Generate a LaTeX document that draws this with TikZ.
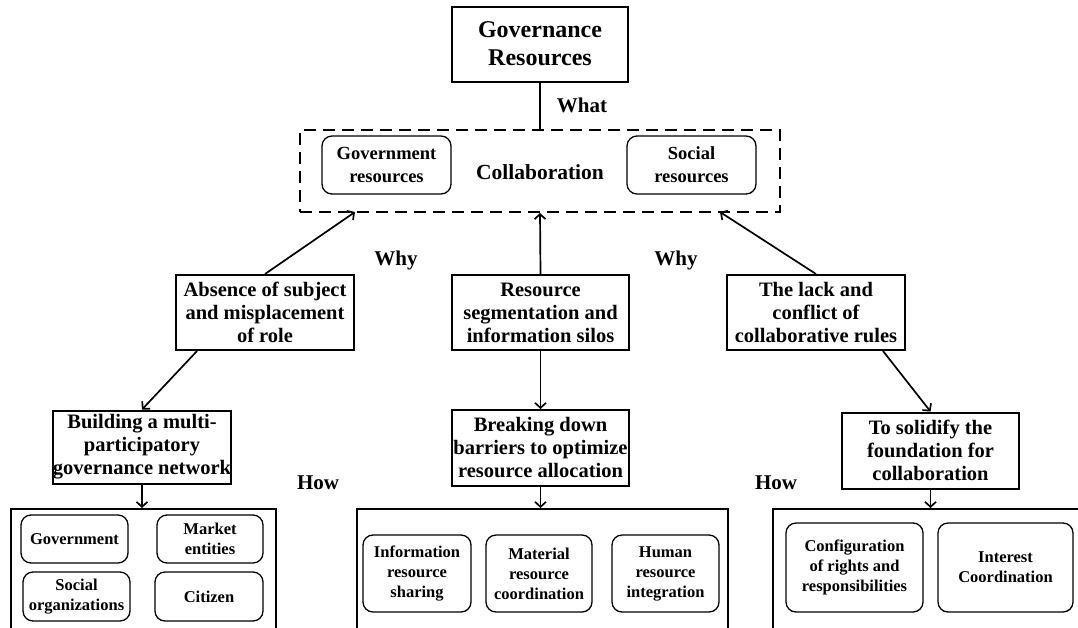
\documentclass[tikz,border=0pt]{standalone}
\usepackage{fontspec}
\setmainfont{Liberation Serif}
\usetikzlibrary{arrows.meta}
\begin{document}
\begin{tikzpicture}[x=1pt,y=-1pt,
  box/.style={draw, line width=2pt, align=center, inner sep=0pt,
    font=\bfseries\fontsize{20.5}{23}\selectfont},
  rbox/.style={draw, line width=1.3pt, rounded corners=10pt, align=center, inner sep=0pt,
    font=\bfseries\fontsize{16.5}{20}\selectfont},
  cont/.style={draw, line width=2pt, inner sep=0pt},
  lbl/.style={font=\bfseries\fontsize{21}{24}\selectfont, inner sep=0pt},
  arr/.style={line width=1.7pt, -{Straight Barb[length=5pt,width=11pt]}},
  ln/.style={line width=1.7pt}]
\useasboundingbox (0,0) rectangle (1078,627);
\fill[white] (0,0) rectangle (1078,627);

% top
\node[box, minimum width=176pt, minimum height=75pt,
  font=\bfseries\fontsize{24}{28}\selectfont] (gov) at (540,44) {Governance\\Resources};
\node[draw, dash pattern=on 12pt off 7pt, line width=2pt, minimum width=480pt,
  minimum height=82pt, inner sep=0pt] (dash) at (540,171) {};
\node[rbox, minimum width=129pt, minimum height=58pt,
  font=\bfseries\fontsize{18.5}{23}\selectfont] (gres) at (386.5,165) {Government\\resources};
\node[rbox, minimum width=129pt, minimum height=58pt,
  font=\bfseries\fontsize{18.5}{23}\selectfont] (sres) at (691.5,165) {Social\\resources};
\node[lbl, font=\bfseries\fontsize{21.5}{24}\selectfont] (collab) at (540,172) {Collaboration};
\node[lbl] (what) at (582,105) {What};
\node[lbl] (why1) at (396,260) {Why};
\node[lbl] (why2) at (676,260) {Why};
\node[lbl] (how1) at (318,483) {How};
\node[lbl] (how2) at (776,483) {How};

% middle level
\node[box, minimum width=178pt, minimum height=75pt] (abs) at (265,312.5)
  {Absence of subject\\and misplacement\\of role};
\node[box, minimum width=177pt, minimum height=75pt] (res) at (540.5,312.5)
  {Resource\\segmentation and\\information silos};
\node[box, minimum width=178pt, minimum height=75pt] (lack) at (816,312.5)
  {The lack and\\conflict of\\collaborative rules};

% lower level
\node[box, minimum width=178pt, minimum height=73pt] (build) at (142,447)
  {Building a multi-\\participatory\\governance network};
\node[box, minimum width=177pt, minimum height=76pt] (brk) at (540.5,448)
  {Breaking down\\barriers to optimize\\resource allocation};
\node[box, minimum width=177pt, minimum height=76pt] (solid) at (930.5,450.5)
  {To solidify the\\foundation for\\collaboration};

% containers
\begin{scope}
\clip (0,0) rectangle (1078,627);
\node[cont, minimum width=265pt, minimum height=123pt] (lc) at (143.5,570.5) {};
\node[cont, minimum width=371pt, minimum height=123pt] (mc) at (542.5,570.5) {};
\node[cont, minimum width=317pt, minimum height=123pt] (rc) at (931.5,570.5) {};
\end{scope}

% bottom items
\node[rbox, minimum width=107pt, minimum height=48pt] (g) at (74.5,539) {Government};
\node[rbox, minimum width=106pt, minimum height=48pt] (m) at (210,539) {Market\\entities};
\node[rbox, minimum width=107pt, minimum height=49pt] (so) at (76.5,596.5) {Social\\organizations};
\node[rbox, minimum width=108pt, minimum height=49pt] (c) at (209,596.5) {Citizen};
\node[rbox, minimum width=108pt, minimum height=77pt] (info) at (417,573.5) {Information\\resource\\sharing};
\node[rbox, minimum width=106pt, minimum height=77pt] (mat) at (539,573.5) {Material\\resource\\coordination};
\node[rbox, minimum width=107pt, minimum height=77pt] (hum) at (665.5,573.5) {Human\\resource\\integration};
\node[rbox, minimum width=137pt, minimum height=89pt] (conf) at (854.5,567.5) {Configuration\\of rights and\\responsibilities};
\node[rbox, minimum width=135pt, minimum height=89pt] (intr) at (1005.5,567.5) {Interest\\Coordination};

% connectors
\coordinate (t1) at (355,212);
\coordinate (t3) at (720,212);
\draw[ln] (gov.south) -- (dash.north);
\draw[arr] (abs.north) -- (t1);
\draw[arr] (res.north) -- (dash.south);
\draw[arr] (lack.north) -- (t3);
\draw[arr] ([xshift=-68pt]abs.south) -- (build.north);
\draw[arr] (res.south) -- (brk.north);
\draw[arr] ([xshift=67pt]lack.south) -- (solid.north);
\draw[arr] (build.south) -- (build.south |- lc.north);
\draw[arr] (brk.south) -- (brk.south |- mc.north);
\draw[arr] (solid.south) -- (solid.south |- rc.north);
\end{tikzpicture}
\end{document}
